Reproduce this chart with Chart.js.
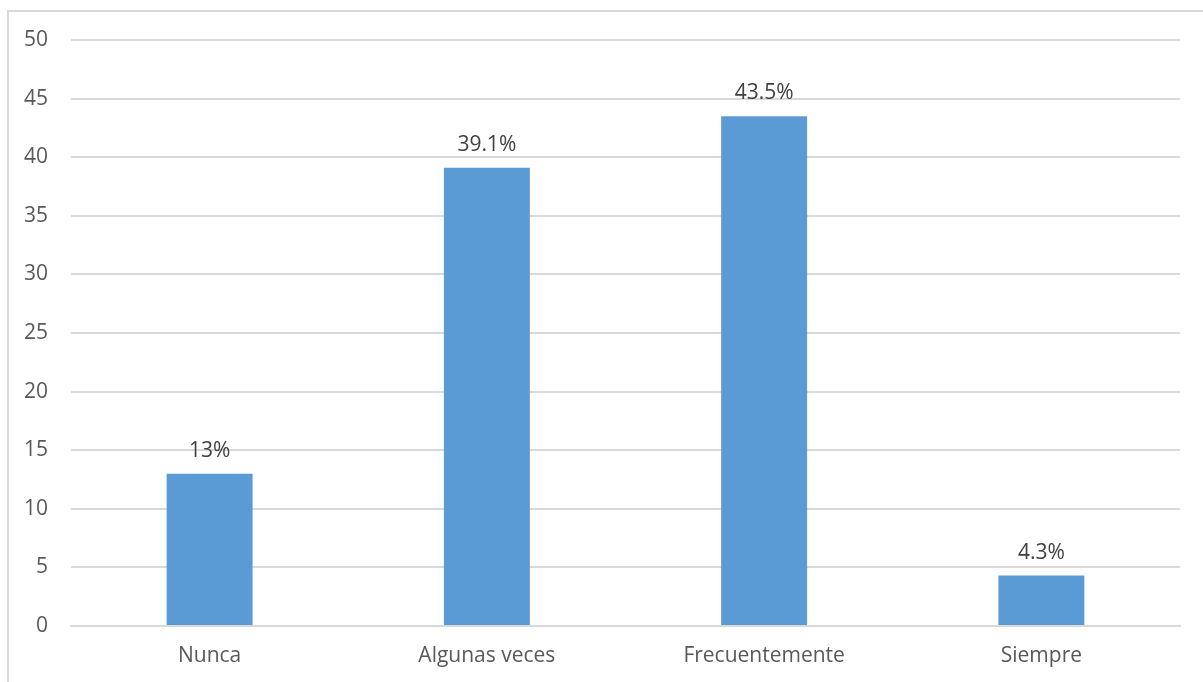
<!DOCTYPE html>
<html>
<head>
<meta charset="utf-8">
<script src="https://cdn.jsdelivr.net/npm/chart.js@4.4.1/dist/chart.umd.min.js"></script>
<style>
  html, body { margin: 0; padding: 0; background: #fff; }
  #wrap { width: 1203px; height: 682px; position: relative; }
</style>
</head>
<body>
<div id="wrap"><canvas id="chart"></canvas></div>
<script>
const categories = ['Nunca', 'Algunas veces', 'Frecuentemente', 'Siempre'];
const values = [13, 39.1, 43.5, 4.3];
const labels = ['13%', '39.1%', '43.5%', '4.3%'];

const fontFamily = '"Open Sans", "DejaVu Sans", sans-serif';

// borde exterior y etiquetas sobre las barras
const extras = {
  id: 'extras',
  beforeDraw(chart) {
    const ctx = chart.ctx;
    ctx.save();
    ctx.strokeStyle = '#d9d9d9';
    ctx.lineWidth = 2;
    ctx.strokeRect(8, 11, 1300, 700);
    ctx.restore();
  },
  afterDatasetsDraw(chart) {
    const ctx = chart.ctx;
    const meta = chart.getDatasetMeta(0);
    ctx.save();
    ctx.fillStyle = '#404040';
    ctx.font = '21px ' + fontFamily;
    ctx.textAlign = 'center';
    ctx.textBaseline = 'alphabetic';
    meta.data.forEach((bar, i) => {
      ctx.fillText(labels[i], bar.x, bar.y - 17);
    });
    ctx.restore();
  }
};

new Chart(document.getElementById('chart'), {
  type: 'bar',
  data: {
    labels: categories,
    datasets: [{
      data: values,
      backgroundColor: '#5b9bd5',
      categoryPercentage: 1,
      barPercentage: 0.31
    }]
  },
  options: {
    responsive: true,
    maintainAspectRatio: false,
    animation: false,
    layout: { padding: { top: 40, right: 23, bottom: 0, left: 0 } },
    plugins: { legend: { display: false }, tooltip: { enabled: false } },
    scales: {
      x: {
        grid: { display: false, drawTicks: false },
        border: { color: '#d9d9d9', width: 2 },
        ticks: { color: '#595959', font: { size: 21, family: fontFamily }, padding: 17 },
        afterFit: s => { s.height = 56; }
      },
      y: {
        min: 0,
        max: 50,
        ticks: { stepSize: 5, color: '#595959', font: { size: 21, family: fontFamily }, padding: 23 },
        grid: { color: '#d9d9d9', lineWidth: 2, drawTicks: false },
        border: { display: false },
        afterFit: s => { s.width = 71; }
      }
    }
  },
  plugins: [extras]
});
</script>
</body>
</html>
